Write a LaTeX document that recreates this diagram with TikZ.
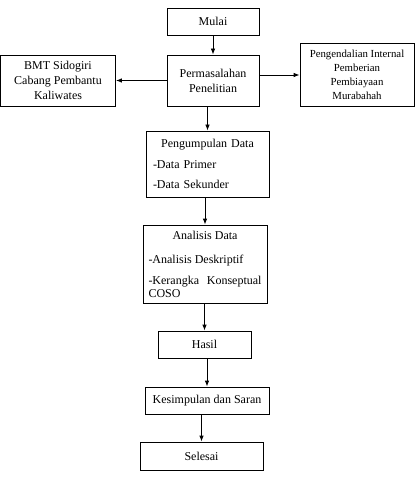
\documentclass[tikz,border=0pt]{standalone}
\usepackage{fontspec}
\setmainfont{Liberation Serif}
\usetikzlibrary{arrows.meta}

\begin{document}
\begin{tikzpicture}[x=1pt, y=-1pt,
  box/.style={draw, line width=0.8pt, align=center, inner sep=0pt,
    font=\fontsize{12}{15}\selectfont},
  arr/.style={-{Latex[length=6pt,width=4.5pt]}, line width=0.8pt}]
\useasboundingbox (0,0) rectangle (416,478);

\node[box, minimum width=92, minimum height=27] (mulai) at (213,21.5) {Mulai};
\node[box, minimum width=92, minimum height=51] (masalah) at (213,80.5) {Permasalahan\\Penelitian};
\node[box, minimum width=115, minimum height=51] (bmt) at (58,80.5) {BMT Sidogiri\\Cabang Pembantu\\Kaliwates};
\node[box, minimum width=114, minimum height=63, font=\fontsize{10.8}{14}\selectfont] (kendali) at (357,75)
  {Pengendalian Internal\\Pemberian\\Pembiayaan\\Murabahah};

\node[box, minimum width=123, minimum height=66, text width=109, align=left] (kumpul) at (207.5,164)
  {{\centering Pengumpulan Data\par}\vspace{5.5pt}-Data Primer\par\vspace{5.5pt}-Data Sekunder};
\node[box, minimum width=124, minimum height=78, text width=113, align=justify,
  font=\fontsize{12}{13}\selectfont] (analisis) at (205,264)
  {\hyphenpenalty=10000{\centering Analisis Data\par}\vspace{11pt}-Analisis Deskriptif\par\vspace{8pt}-Kerangka Konseptual COSO\par};

\node[box, minimum width=93, minimum height=27] (hasil) at (204.5,344.5) {Hasil};
\node[box, minimum width=124, minimum height=27] (simpul) at (207,400.5) {Kesimpulan dan Saran};
\node[box, minimum width=123, minimum height=28] (selesai) at (201.5,456) {Selesai};

\draw[arr] (mulai) -- (masalah);
\draw[arr] (masalah) -- (bmt);
\draw[arr] (masalah.east |- kendali) -- (kendali);
\draw[arr] (masalah.south -| kumpul) -- (kumpul);
\draw[arr] (kumpul.south -| analisis) -- (analisis);
\draw[arr] (analisis.south -| hasil) -- (hasil);
\draw[arr] (hasil.south -| simpul) -- (simpul);
\draw[arr] (simpul.south -| selesai) -- (selesai);

\end{tikzpicture}
\end{document}
